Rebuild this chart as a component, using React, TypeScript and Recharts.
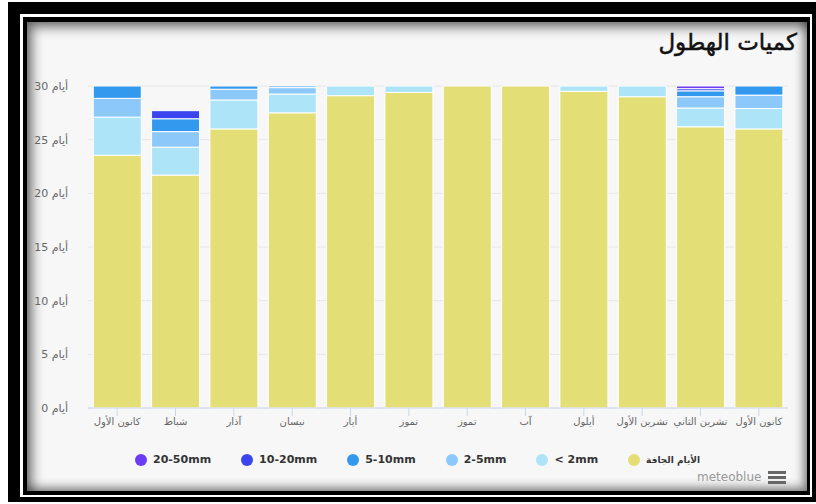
import React from 'react';
import { BarChart, Bar, XAxis, YAxis, CartesianGrid } from 'recharts';

const months = [
  'كانون الأول', 'شباط', 'آذار', 'نيسان', 'أيار', 'تموز',
  'تموز', 'آب', 'أيلول', 'تشرين الأول', 'تشرين الثاني', 'كانون الأول'
];
const dryDays = [23.55, 21.7, 26.0, 27.5, 29.1, 29.4, 30, 30, 29.5, 29.0, 26.2, 26.0];
const below2 = [3.55, 2.6, 2.7, 1.75, 0.9, 0.6, 0, 0, 0.5, 1.0, 1.75, 1.9];
const mm2to5 = [1.75, 1.45, 1.0, 0.6, 0, 0, 0, 0, 0, 0, 1.05, 1.25];
const mm5to10 = [1.15, 1.2, 0.3, 0.15, 0, 0, 0, 0, 0, 0, 0.55, 0.85];
const mm10to20 = [0, 0.75, 0, 0, 0, 0, 0, 0, 0, 0, 0.2, 0];
const mm20to50 = [0, 0, 0, 0, 0, 0, 0, 0, 0, 0, 0.25, 0];
const yTicks = [0, 5, 10, 15, 20, 25, 30];
const dayUnit = 'أيام';

const series = [
  { key: 'dry', name: 'الأيام الجافة', color: '#e3de76' },
  { key: 'lt2', name: '< 2mm', color: '#ade4f8' },
  { key: 'm2', name: '2-5mm', color: '#8cc9fa' },
  { key: 'm5', name: '5-10mm', color: '#3399ee' },
  { key: 'm10', name: '10-20mm', color: '#3a44ef' },
  { key: 'm20', name: '20-50mm', color: '#6a3cf4' }
];

const data = months.map((m, i) => ({
  month: m,
  dry: dryDays[i],
  lt2: below2[i],
  m2: mm2to5[i],
  m5: mm5to10[i],
  m10: mm10to20[i],
  m20: mm20to50[i]
}));

const font = '"DejaVu Sans", "Noto Sans", sans-serif';

export default function App() {
  return (
    <div style={{ position: 'fixed', left: 0, top: 0, width: 816, height: 504, background: '#fff', overflow: 'hidden' }}>
      {/* double black frame */}
      <div style={{
        position: 'absolute', left: 8, top: 2, width: 808, height: 500, boxSizing: 'border-box',
        borderStyle: 'solid', borderColor: '#000', borderWidth: '12px 4px 5px 12px', background: '#fff'
      }}>
        <div style={{
          position: 'absolute', left: 3, top: 3, right: 2, bottom: 2, boxSizing: 'border-box',
          borderStyle: 'solid', borderColor: '#000', borderWidth: '5px 3px 4px 4px',
          background: '#f7f7f7',
          boxShadow: 'inset 5px 5px 12px rgba(0,0,0,0.55), inset -4px -4px 10px rgba(0,0,0,0.4)'
        }} />
      </div>

      <div style={{
        position: 'absolute', right: 19, top: 29, fontFamily: font, fontSize: 23,
        WebkitTextStroke: '0.5px #111',
        color: '#111', direction: 'rtl', whiteSpace: 'nowrap'
      }}>
        كميات الهطول
      </div>

      <div style={{ position: 'absolute', left: 0, top: 0 }}>
        <BarChart
          width={816}
          height={504}
          data={data}
          margin={{ top: 86, right: 28, bottom: 66, left: 0 }}
          barCategoryGap="9%"
        >
          <CartesianGrid vertical={false} stroke="#e6e6e6" />
          <XAxis
            dataKey="month"
            height={30}
            stroke="#ccd6eb"
            tickSize={8}
            tickLine={{ stroke: '#ccd6eb' }}
            tick={{ fill: '#666', fontSize: 10, fontFamily: font }}
            interval={0}
          />
          <YAxis
            width={88}
            domain={[0, 30]}
            ticks={yTicks}
            axisLine={false}
            tickLine={false}
            tickMargin={14}
            tick={{ fill: '#666', fontSize: 11, fontFamily: font }}
            tickFormatter={(v: number) => `${v} ${dayUnit}`}
          />
          {series.map((s) => (
            <Bar
              key={s.key}
              dataKey={s.key}
              name={s.name}
              stackId="a"
              fill={s.color}
              stroke="#ffffff"
              strokeWidth={1}
              isAnimationActive={false}
            />
          ))}
        </BarChart>
      </div>

      {/* legend */}
      <div style={{
        position: 'absolute', left: 135, top: 453, display: 'flex',
        alignItems: 'center', fontFamily: font, fontSize: 11, fontWeight: 'bold', color: '#333'
      }}>
        {[...series].reverse().map((s, i) => (
          <div key={s.key} style={{
            display: 'flex', alignItems: 'center', gap: 6, whiteSpace: 'nowrap',
            marginLeft: i === 0 ? 0 : 30
          }}>
            <span style={{ width: 12, height: 12, borderRadius: 6, background: s.color, display: 'inline-block' }} />
            <span style={{ fontSize: s.key === 'dry' ? 9 : 11 }}>{s.name}</span>
          </div>
        ))}
      </div>

      <div style={{
        position: 'absolute', left: 697, top: 470, fontFamily: font, fontSize: 12, color: '#999'
      }}>
        meteoblue
      </div>
      <div style={{ position: 'absolute', left: 768, top: 471 }}>
        {[0, 1, 2].map((i) => (
          <div key={i} style={{ width: 18, height: 3, background: '#666', marginBottom: 2 }} />
        ))}
      </div>
    </div>
  );
}
